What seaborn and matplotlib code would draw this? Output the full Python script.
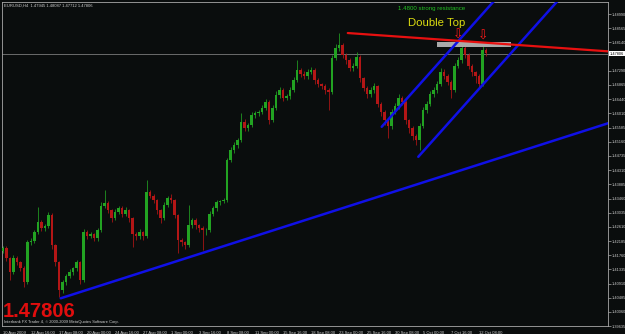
import numpy as np
import matplotlib
matplotlib.use("Agg")
import matplotlib.pyplot as plt
import matplotlib.transforms as mtransforms
from matplotlib.patches import Rectangle
import seaborn as sns

# ---------------- data ----------------
symbol_header = "EURUSD,H4  1.47945 1.48087 1.47712 1.47806"
last_price = 1.47806
first_open_pts = 14190
# closing prices of 8-hour candles, in points (price * 10000)
close_pts = [14197, 14167, 14125, 14167, 14155, 14137, 14095, 14215, 14218, 14245,
             14275, 14257, 14263, 14296, 14206, 14155, 14071, 14095, 14113, 14125,
             14137, 14155, 14101, 14245, 14233, 14239, 14227, 14251, 14323, 14332,
             14311, 14287, 14305, 14317, 14299, 14311, 14287, 14239, 14233, 14245,
             14233, 14365, 14353, 14341, 14311, 14287, 14326, 14347, 14341, 14296,
             14221, 14215, 14206, 14266, 14281, 14266, 14257, 14251, 14251, 14299,
             14317, 14335, 14338, 14341, 14461, 14491, 14506, 14521, 14575, 14557,
             14566, 14596, 14602, 14605, 14617, 14635, 14581, 14617, 14656, 14671,
             14647, 14653, 14671, 14701, 14731, 14719, 14713, 14725, 14731, 14701,
             14689, 14683, 14671, 14665, 14767, 14797, 14806, 14776, 14761, 14737,
             14743, 14770, 14707, 14677, 14659, 14671, 14683, 14629, 14605, 14581,
             14563, 14605, 14623, 14647, 14635, 14581, 14557, 14533, 14521, 14563,
             14611, 14629, 14659, 14671, 14689, 14725, 14713, 14695, 14671, 14743,
             14761, 14797, 14776, 14743, 14725, 14713, 14689, 14791, 14781]
# upper / lower shadow lengths in pips
wick_up_pips = [8, 6, 5, 10, 6, 4, 6, 8, 10, 6,
                45, 8, 6, 10, 6, 5, 4, 8, 6, 10,
                5, 8, 4, 9, 6, 8, 5, 7, 12, 39,
                6, 5, 10, 8, 6, 9, 5, 4, 6, 9,
                5, 36, 8, 6, 5, 4, 10, 8, 12, 5,
                4, 6, 5, 60, 8, 6, 5, 7, 6, 9,
                8, 6, 5, 7, 6, 10, 8, 6, 27, 8,
                6, 10, 7, 6, 9, 10, 5, 8, 12, 8,
                5, 6, 9, 8, 30, 6, 8, 9, 10, 5,
                6, 4, 5, 6, 10, 12, 36, 6, 5, 6,
                8, 15, 5, 4, 6, 8, 9, 4, 5, 6,
                5, 8, 9, 12, 6, 5, 4, 6, 5, 8,
                10, 8, 9, 10, 8, 12, 8, 6, 5, 9,
                10, 18, 8, 6, 5, 4, 6, 15, 6]
wick_dn_pips = [6, 8, 24, 6, 9, 8, 15, 5, 8, 6,
                4, 9, 8, 5, 10, 12, 21, 8, 9, 6,
                8, 9, 12, 4, 8, 6, 9, 8, 5, 6,
                8, 10, 6, 5, 9, 6, 12, 39, 10, 8,
                12, 5, 6, 8, 12, 15, 6, 5, 8, 9,
                39, 12, 10, 6, 8, 10, 12, 60, 15, 5,
                6, 8, 9, 6, 5, 6, 9, 8, 6, 10,
                8, 6, 9, 8, 6, 5, 12, 6, 5, 8,
                9, 6, 8, 5, 6, 9, 10, 8, 6, 12,
                9, 10, 12, 54, 5, 6, 8, 10, 12, 9,
                8, 6, 12, 10, 12, 9, 8, 10, 12, 15,
                36, 8, 6, 9, 10, 12, 15, 12, 15, 30,
                6, 8, 6, 9, 8, 6, 9, 10, 24, 5,
                6, 8, 9, 10, 12, 21, 10, 6, 8]

date_labels = ["10 Aug 2009", "12 Aug 16:00", "17 Aug 08:00", "20 Aug 00:00",
               "24 Aug 16:00", "27 Aug 08:00", "1 Sep 00:00", "3 Sep 16:00",
               "8 Sep 08:00", "11 Sep 00:00", "15 Sep 16:00", "18 Sep 08:00",
               "23 Sep 00:00", "25 Sep 16:00", "30 Sep 08:00", "5 Oct 00:00",
               "7 Oct 16:00", "12 Oct 08:00"]
price_ticks = [1.48990, 1.48565, 1.48140, 1.47290, 1.46865, 1.46440, 1.46010,
               1.45585, 1.45160, 1.44735, 1.44310, 1.43885, 1.43460, 1.43035,
               1.42610, 1.42185, 1.41760, 1.41335, 1.40910, 1.40485, 1.40060,
               1.39635]

# drawn objects (bar index on H4 scale, price)
resist_x = [197, 346]
resist_y = [1.4842, 1.4787]
support_x = [33, 346]
support_y = [1.4047, 1.4572]
chan_up_x = [216.4, 281.1]
chan_up_y = [1.4561, 1.4941]
chan_lo_x = [237.3, 317.4]
chan_lo_y = [1.4471, 1.4941]
zone_x = [247.8, 290.0]
zone_y = [1.4801, 1.4816]
arrow_x = [260.0, 274.3]
arrow_y = [1.4836, 1.4833]

# ---------------- style ----------------
BG = "#0a0d0d"
GREEN = "#22a322"
RED = "#b31616"
BLUE = "#1010e6"
LINE_RED = "#e81010"
AXC = "#a8a8a8"
TXT = "#cfcfcf"

sns.set_style("dark", {"axes.facecolor": BG, "figure.facecolor": BG,
                       "axes.edgecolor": AXC, "axes.grid": False})
plt.rcParams["font.family"] = ["Liberation Sans", "DejaVu Sans"]

W, H = 625, 334
fig = plt.figure(figsize=(W / 100, H / 100), dpi=100, facecolor=BG)
ax_l, ax_r, ax_t, ax_b = 2, 608, 2, 326.3
ax = fig.add_axes([ax_l / W, (H - ax_b) / H, (ax_r - ax_l) / W, (ax_b - ax_t) / H])
ax.set_facecolor(BG)

n = len(close_pts)
opens = np.array([first_open_pts] + close_pts[:-1]) / 1e4
closes = np.array(close_pts) / 1e4
highs = np.maximum(opens, closes) + np.array(wick_up_pips) / 1e4
lows = np.minimum(opens, closes) - np.array(wick_dn_pips) / 1e4
xs = np.arange(n) * 2
cols = np.where(closes >= opens, GREEN, RED)

ax.vlines(xs, lows, highs, colors=cols, linewidth=0.55, zorder=2)
ax.bar(xs, np.maximum(np.abs(closes - opens), 0.00008), bottom=np.minimum(opens, closes),
       width=1.25, color=cols, linewidth=0, zorder=3)

# bid line
ax.axhline(last_price, color="#7a7a7a", linewidth=0.6, zorder=1)

# resistance zone
ax.add_patch(Rectangle((zone_x[0], zone_y[0]), zone_x[1] - zone_x[0], zone_y[1] - zone_y[0],
                       facecolor="#a9a9a9", edgecolor="none", zorder=4))

# trend lines
sns.lineplot(x=support_x, y=support_y, ax=ax, color=BLUE, linewidth=1.8, zorder=5)
sns.lineplot(x=chan_up_x, y=chan_up_y, ax=ax, color=BLUE, linewidth=1.8, zorder=5)
sns.lineplot(x=chan_lo_x, y=chan_lo_y, ax=ax, color=BLUE, linewidth=1.8, zorder=5)
sns.lineplot(x=resist_x, y=resist_y, ax=ax, color=LINE_RED, linewidth=1.6, zorder=6)

for axx, ayy in zip(arrow_x, arrow_y):
    ax.text(axx, ayy, "\u21e9", color="#ff1a1a", fontsize=9, ha="center", va="center",
            family=["DejaVu Sans"], zorder=7)

ax.text(245, 1.4915, "1.4800 strong resistance", color="#22c322", fontsize=4.4,
        ha="center", va="center", zorder=7)
ax.text(248, 1.4871, "Double Top", color="#dcdc10", fontsize=8.2,
        ha="center", va="center", zorder=7)

ax.set_xlim(-0.57, 345.7)
ax.set_ylim(1.3963, 1.4935)

# x axis
ax.set_xticks(np.arange(len(date_labels)) * 16)
ax.set_xticklabels(date_labels)
offset = mtransforms.ScaledTranslation(1.5 / 100, 0, fig.dpi_scale_trans)
for lbl in ax.get_xticklabels():
    lbl.set_horizontalalignment("left")
    lbl.set_transform(lbl.get_transform() + offset)
ax.tick_params(axis="x", colors=AXC, labelcolor=TXT, labelsize=3, length=2.5,
               width=0.5, pad=0.8, direction="out")

# y axis on the right
ax.yaxis.tick_right()
ax.set_yticks(price_ticks)
ax.set_yticklabels([f"{v:.5f}" for v in price_ticks])
ax.tick_params(axis="y", colors=AXC, labelcolor=TXT, labelsize=2.8, length=2.2,
               width=0.5, pad=0.6, direction="out")
ax.set_xlabel("")
ax.set_ylabel("")

for s in ax.spines.values():
    s.set_color(AXC)
    s.set_linewidth(0.6)
    s.set_visible(True)

# current price tag on the price scale
blend = mtransforms.blended_transform_factory(ax.transAxes, ax.transData)
ax.text(1.003, last_price, f"{last_price:.5f}", transform=blend, fontsize=2.8,
        color="black", ha="left", va="center", clip_on=False,
        bbox=dict(facecolor="white", edgecolor="none", pad=0.7), zorder=8)

# header and footer texts
fig.text(4 / W, 1 - 5.5 / H, symbol_header, fontsize=3, color=TXT, va="center", ha="left")
fig.text(3 / W, 1 - 311.5 / H, f"{last_price:.5f}", fontsize=14.5, weight="bold",
         color="#e00d0d", va="center", ha="left")
fig.text(4 / W, 1 - 322.5 / H, "Interbank FX Trader 4, \u00a9 2000-2009 MetaQuotes Software Corp.",
         fontsize=2.9, color=TXT, va="center", ha="left")

fig.savefig("out.png", dpi=100, facecolor=BG)
